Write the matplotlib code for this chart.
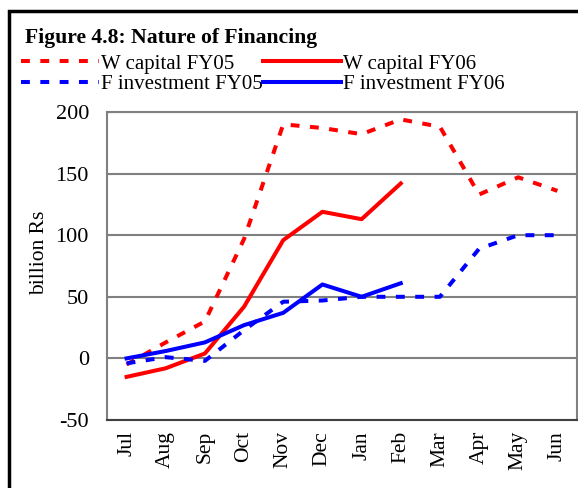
import matplotlib
matplotlib.use("Agg")
import matplotlib.pyplot as plt
from matplotlib.patches import Rectangle
import numpy as np

months = ["Jul", "Aug", "Sep", "Oct", "Nov", "Dec", "Jan", "Feb", "Mar", "Apr", "May", "Jun"]
wcap_fy05 = [-5, 13, 30, 97, 190, 187, 182, 194, 188, 133, 147, 136]
wcap_fy06 = [-15, -8, 4, 42, 96, 119, 113, 142]
finv_fy05 = [-4, 1, -2, 23, 46, 47, 50, 50, 50, 89, 100, 100]
finv_fy06 = [0, 6, 13, 27, 37, 60, 50, 61]
yticks = [-50, 0, 50, 100, 150, 200]

plt.rcParams['font.family'] = ['Liberation Serif', 'DejaVu Serif']
plt.rcParams['axes.unicode_minus'] = False

W, H = 578, 488
fig = plt.figure(figsize=(W/100, H/100), dpi=100)
ax = fig.add_axes([107/W, 1 - 420/H, (577-107)/W, (420-112)/H])

x = np.arange(len(months))
dash = (0, (2.2, 2.6))
lw = 2.9
l1, = ax.plot(x, wcap_fy05, color='#ff0000', lw=lw, linestyle=dash, label='W capital FY05')
l2, = ax.plot(x[:len(wcap_fy06)], wcap_fy06, color='#ff0000', lw=lw, label='W capital FY06')
l3, = ax.plot(x, finv_fy05, color='#0000ff', lw=lw, linestyle=dash, label='F investment FY05')
l4, = ax.plot(x[:len(finv_fy06)], finv_fy06, color='#0000ff', lw=lw, label='F investment FY06')

ax.set_xlim(-0.5, len(months) - 0.5)
ax.set_ylim(-50, 200)
ax.set_yticks(yticks)
ax.set_xticks(x)
ax.set_xticklabels(months, rotation=90, fontsize=15.5)
ax.tick_params(axis='y', labelsize=16, length=3, direction='in', color='#808080', pad=13)
ax.tick_params(axis='x', length=0, pad=8)
ax.yaxis.grid(True, color='#808080', lw=1.5)
ax.set_axisbelow(True)
for s in ax.spines.values():
    s.set_color('#808080')
    s.set_linewidth(1.5)
ax.spines['bottom'].set_color('#404040')
ax.set_ylabel('billion Rs', fontsize=15.5)
ax.yaxis.set_label_coords((40 - 107) / 470, (420 - 253) / 308)
ax.yaxis.label.set_va('center')

fig.text(25/W, 1 - 38/H, 'Figure 4.8: Nature of Financing', fontsize=15.6, fontweight='bold',
         va='center', ha='left')

fig.legend(handles=[l1, l3, l2, l4], ncol=2, loc='upper left',
           bbox_to_anchor=(21/W, 1 - 54/H), frameon=False, fontsize=15,
           handlelength=3.75, handletextpad=0.1, columnspacing=0.0,
           labelspacing=0.05, borderaxespad=0, borderpad=0)

fig.patches.append(Rectangle((9/W, -0.1), 1.2, 1 - 11/H + 0.1, transform=fig.transFigure,
                             fill=False, edgecolor='black', lw=2.5))

fig.savefig('out.png', dpi=100)
